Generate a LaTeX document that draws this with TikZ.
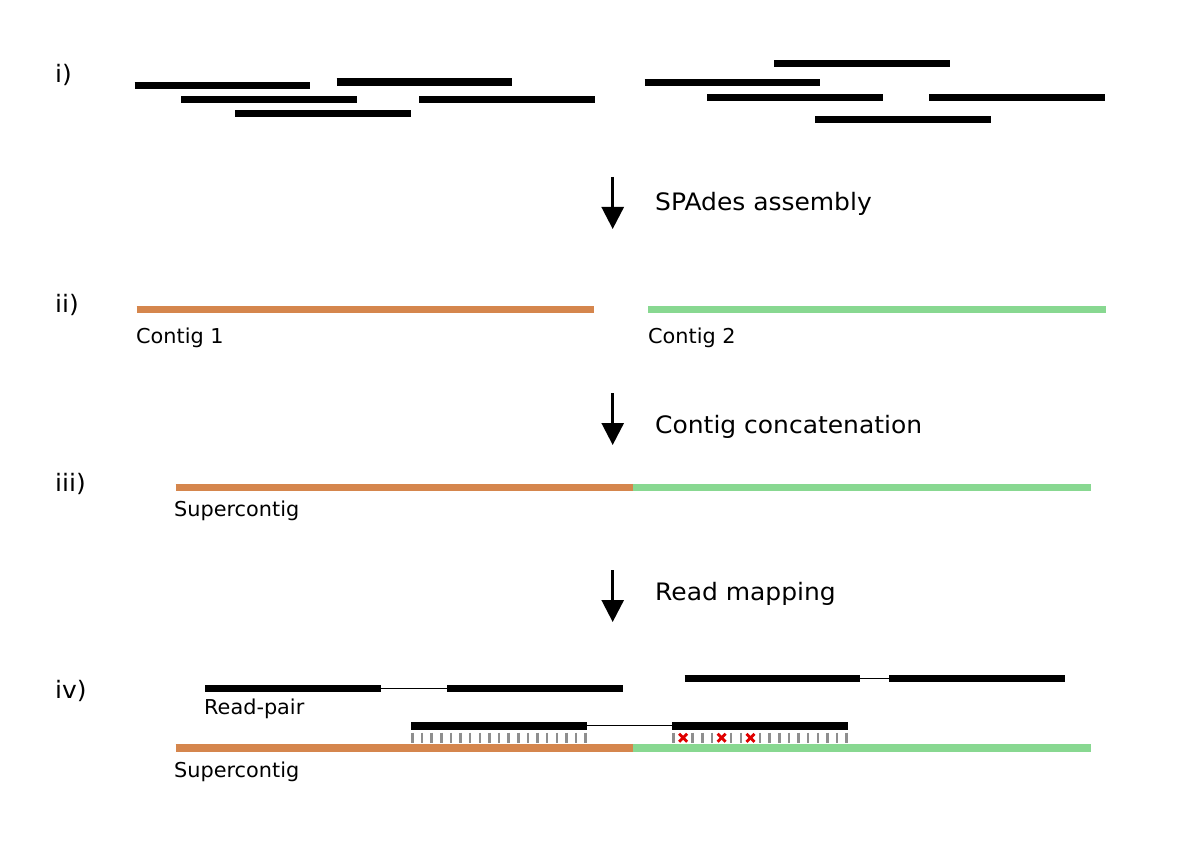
\documentclass[tikz,border=0pt]{standalone}
\usepackage{fontspec}
\setmainfont{DejaVu Sans}
\newfontfamily\widesans[FakeStretch=1.04]{DejaVu Sans}
\newfontfamily\labelsans[FakeStretch=1.015]{DejaVu Sans}
\usetikzlibrary{arrows.meta}
\definecolor{orangeC}{HTML}{D5864D}
\definecolor{greenC}{HTML}{88D891}
\definecolor{tickgray}{HTML}{8E8E8E}
\definecolor{mismatchred}{HTML}{E00000}
\tikzset{
  readbar/.style={line width=7.5pt, draw=black},
  contigone/.style={line width=7.5pt, draw=orangeC},
  contigtwo/.style={line width=7.5pt, draw=greenC},
  pairlink/.style={line width=1.3pt, draw=black},
  tickmark/.style={line width=2.5pt, draw=tickgray},
  mismatch/.style={line width=2.8pt, draw=mismatchred},
  steparrow/.style={line width=2.7pt, -{Triangle[width=22pt,length=22pt]}},
  steplabel/.style={anchor=base west, inner sep=0pt, font=\widesans\fontsize{24}{28}\selectfont},
  rowlabel/.style={anchor=base west, inner sep=0pt, font=\widesans\fontsize{24}{28}\selectfont},
  barlabel/.style={anchor=base west, inner sep=0pt, font=\labelsans\fontsize{20.5}{24}\selectfont}
}
\begin{document}
\begin{tikzpicture}[x=1pt,y=-1pt]
\useasboundingbox[fill=white] (0,0) rectangle (1181,850);

% ---------- row labels ----------
\node[rowlabel] (ri)   at (55,83)  {i)};
\node[rowlabel] (rii)  at (55,313) {ii)};
\node[rowlabel] (riii) at (55,491) {iii)};
\node[rowlabel] (riv)  at (55,698) {iv)};

% ---------- i) reads ----------
\draw[readbar] (134.5,85.3) -- ++(175.5,0);
\draw[readbar] (336.5,82) -- ++(175.5,0);
\draw[readbar] (181.3,99.7) -- ++(175.5,0);
\draw[readbar] (419,99.7) -- ++(175.5,0);
\draw[readbar] (235,113.3) -- ++(175.5,0);

\draw[readbar] (774,63.7) -- ++(175.5,0);
\draw[readbar] (644.5,82.7) -- ++(175.5,0);
\draw[readbar] (707,97.3) -- ++(175.5,0);
\draw[readbar] (929.3,97.3) -- ++(175.5,0);
\draw[readbar] (815.3,119.3) -- ++(175.5,0);

% ---------- arrows and step labels ----------
\coordinate (a1s) at (612.7,177);
\coordinate (a1e) at (612.7,229);
\draw[steparrow] (a1s) -- (a1e);
\node[steplabel] (s1) at (655,211) {SPAdes assembly};

\coordinate (a2s) at (612.7,393);
\coordinate (a2e) at (612.7,445);
\draw[steparrow] (a2s) -- (a2e);
\node[steplabel] (s2) at (655,433) {Contig concatenation};

\coordinate (a3s) at (612.7,570);
\coordinate (a3e) at (612.7,622);
\draw[steparrow] (a3s) -- (a3e);
\node[steplabel] (s3) at (655,600) {Read mapping};

% ---------- ii) contigs ----------
\draw[contigone] (136.5,309.5) -- (594.3,309.5);
\draw[contigtwo] (648.3,309.5) -- (1106,309.5);
\node[barlabel] (c1) at (136,343.5) {Contig 1};
\node[barlabel] (c2) at (648,343.5) {Contig 2};

% ---------- iii) supercontig ----------
\coordinate (sc1a) at (175.5,487.5);
\coordinate (sc1m) at (633,487.5);
\coordinate (sc1b) at (1090.5,487.5);
\draw[contigone] (sc1a) -- (sc1m);
\draw[contigtwo] (sc1m) -- (sc1b);
\node[barlabel] (l3) at (174,516) {Supercontig};

% ---------- iv) read mapping ----------
% read pair (left, top)
\coordinate (p1a) at (205,688.3);
\coordinate (p1b) at (380.5,688.3);
\coordinate (p1c) at (447,688.3);
\coordinate (p1d) at (622.5,688.3);
\draw[readbar] (p1a) -- (p1b);
\draw[pairlink] (p1b) -- (p1c);
\draw[readbar] (p1c) -- (p1d);
\node[barlabel] (rp) at (204,714) {Read-pair};

% read pair (right, top)
\coordinate (p2a) at (684.5,678.3);
\coordinate (p2b) at (860,678.3);
\coordinate (p2c) at (889,678.3);
\coordinate (p2d) at (1064.5,678.3);
\draw[readbar] (p2a) -- (p2b);
\draw[pairlink] (p2b) -- (p2c);
\draw[readbar] (p2c) -- (p2d);

% read pair (mapped)
\coordinate (p3a) at (411.3,725.8);
\coordinate (p3b) at (586.8,725.8);
\coordinate (p3c) at (672.3,725.8);
\coordinate (p3d) at (847.8,725.8);
\draw[readbar] (p3a) -- (p3b);
\draw[pairlink] (p3b) -- (p3c);
\draw[readbar] (p3c) -- (p3d);

% ticks under left read
\foreach \k in {0,...,18}{
  \draw[tickmark] ({412.5+\k*9.62},732.5) -- ++(0,10.5);
}
% ticks / mismatches under right read
\foreach \k in {0,...,18}{
  \pgfmathtruncatemacro{\isx}{(\k==1)||(\k==5)||(\k==8)}
  \ifnum\isx=1
    \draw[mismatch] ({673.5+\k*9.62-4},733.8) -- ++(8,8);
    \draw[mismatch] ({673.5+\k*9.62-4},741.8) -- ++(8,-8);
  \else
    \draw[tickmark] ({673.5+\k*9.62},732.5) -- ++(0,10.5);
  \fi
}

% supercontig
\coordinate (sc2a) at (175.5,748);
\coordinate (sc2m) at (633,748);
\coordinate (sc2b) at (1090.5,748);
\draw[contigone] (sc2a) -- (sc2m);
\draw[contigtwo] (sc2m) -- (sc2b);
\node[barlabel] (l4) at (174,777) {Supercontig};
\end{tikzpicture}
\end{document}
